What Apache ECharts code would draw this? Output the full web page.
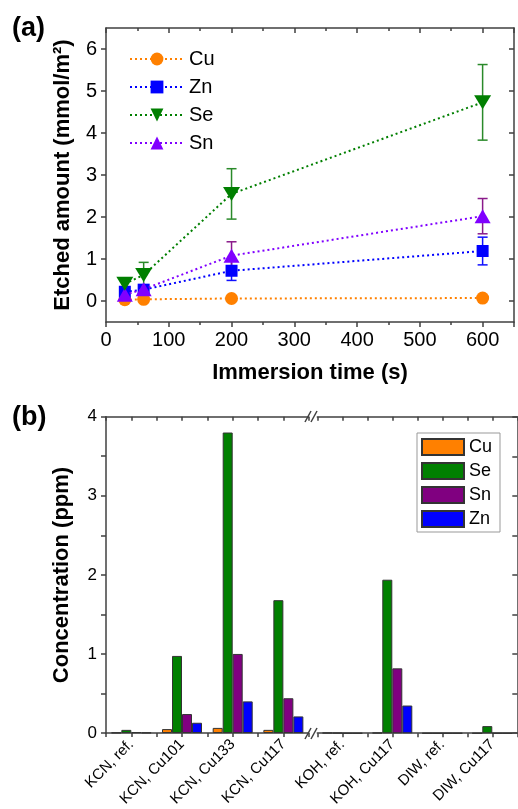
<!DOCTYPE html>
<html>
<head>
<meta charset="utf-8">
<script src="https://cdn.jsdelivr.net/npm/echarts@6/dist/echarts.min.js"></script>
<style>
body{margin:0;background:#fff;}
#chartA{position:absolute;left:0;top:0;width:518px;height:390px;}
#chartB{position:absolute;left:0;top:390px;width:518px;height:419px;}
#overB{position:absolute;left:0;top:390px;width:518px;height:419px;pointer-events:none;}
</style>
</head>
<body>
<div id="chartA"></div>
<div id="chartB"></div>
<div id="overB"></div>
<script>
// (a) etched amount vs immersion time
var times = [30, 60, 200, 600];
var cuVals = [0.03, 0.04, 0.06, 0.07];
var znVals = [0.22, 0.27, 0.72, 1.19];
var seVals = [0.41, 0.62, 2.55, 4.73];
var snVals = [0.15, 0.28, 1.08, 2.02];
var znErr = [0.08, 0.07, 0.23, 0.33];
var seErr = [0.14, 0.3, 0.6, 0.9];
var snErr = [0.08, 0.06, 0.33, 0.42];
var yTicksA = [0, 1, 2, 3, 4, 5, 6];

// (b) concentration per sample
var samples = ['KCN, ref.', 'KCN, Cu101', 'KCN, Cu133', 'KCN, Cu117', 'KOH, ref.', 'KOH, Cu117', 'DIW, ref.', 'DIW, Cu117'];
var samplePos = [1, 2, 3, 4, 5, 6, 7, 8];
var cuConc = [0.005, 0.05, 0.065, 0.04, 0.006, 0.006, 0, 0];
var seConc = [0.04, 0.975, 3.8, 1.68, 0.004, 1.94, 0, 0.09];
var snConc = [0.01, 0.24, 1.0, 0.44, 0, 0.82, 0, 0];
var znConc = [0.005, 0.13, 0.4, 0.21, 0, 0.35, 0, 0];
var yLabelsB = [0, 1, 2, 3, 4];

var FONT = 'Liberation Sans, Arial, sans-serif';
var AX = '#404040';

function pts(vals){
  return times.map(function(t, i){ return [t, vals[i]]; });
}
function errData(vals, err){
  return times.map(function(t, i){ return [t, vals[i] - err[i], vals[i] + err[i]]; });
}
function errSeries(vals, err, color){
  return {
    type: 'custom',
    z: 1,
    silent: true,
    encode: {x: 0, y: [1, 2]},
    data: errData(vals, err),
    renderItem: function(params, api){
      var x = api.value(0);
      var top = api.coord([x, api.value(2)]);
      var bot = api.coord([x, api.value(1)]);
      var w = 5;
      var st = {stroke: color, lineWidth: 1.5};
      return {type: 'group', children: [
        {type: 'line', shape: {x1: top[0], y1: top[1], x2: bot[0], y2: bot[1]}, style: st},
        {type: 'line', shape: {x1: top[0]-w, y1: top[1], x2: top[0]+w, y2: top[1]}, style: st},
        {type: 'line', shape: {x1: bot[0]-w, y1: bot[1], x2: bot[0]+w, y2: bot[1]}, style: st}
      ]};
    }
  };
}
function lineSeries(name, vals, color, symbol, size, rotate, z){
  return {
    name: name,
    type: 'line',
    data: pts(vals),
    symbol: symbol,
    symbolSize: size,
    symbolRotate: rotate,
    z: z,
    itemStyle: {color: color, opacity: 1},
    lineStyle: {color: color, width: 2, type: [2, 3]}
  };
}
var tickStyle = {color: AX, width: 1.5};

var chartA = echarts.init(document.getElementById('chartA'));
chartA.setOption({
  animation: false,
  textStyle: {fontFamily: FONT},
  graphic: [{type: 'text', left: 12, top: 15, style: {text: '(a)', font: 'bold 27px ' + FONT, fill: '#000'}}],
  grid: {left: 106, top: 28, width: 408, height: 294},
  legend: {
    left: 124, top: 44, orient: 'vertical',
    itemWidth: 54, itemHeight: 16, itemGap: 8,
    data: ['Cu', 'Zn', 'Se', 'Sn'],
    textStyle: {fontSize: 20, color: '#000', fontFamily: FONT}
  },
  xAxis: [{
    type: 'value', min: 0, max: 650, interval: 100,
    name: 'Immersion time (s)', nameLocation: 'middle', nameGap: 40,
    nameTextStyle: {fontSize: 22, fontWeight: 'bold', color: '#000', fontFamily: FONT},
    axisLine: {onZero: false, lineStyle: tickStyle},
    axisTick: {length: 5, lineStyle: tickStyle},
    minorTick: {show: true, splitNumber: 2, length: 3, lineStyle: tickStyle},
    axisLabel: {fontSize: 20, color: '#000', margin: 8, showMaxLabel: false, fontFamily: FONT},
    splitLine: {show: false}
  }, {
    type: 'value', min: 0, max: 650, interval: 100, position: 'top',
    axisLine: {show: true, onZero: false, lineStyle: tickStyle},
    axisTick: {show: true, inside: true, length: 5, lineStyle: tickStyle},
    minorTick: {show: true, splitNumber: 2, length: 3, lineStyle: tickStyle},
    axisLabel: {show: false},
    splitLine: {show: false}
  }],
  yAxis: [{
    type: 'value', min: -0.5, max: 6.5,
    name: 'Etched amount (mmol/m²)', nameLocation: 'middle', nameGap: 32,
    nameTextStyle: {fontSize: 22, fontWeight: 'bold', color: '#000', fontFamily: FONT},
    axisLine: {show: true, onZero: false, lineStyle: tickStyle},
    axisTick: {show: true, length: 5, customValues: yTicksA, lineStyle: tickStyle},
    axisLabel: {fontSize: 20, color: '#000', margin: 9, customValues: yTicksA, fontFamily: FONT},
    splitLine: {show: false}
  }, {
    type: 'value', min: -0.5, max: 6.5, position: 'right',
    axisLine: {show: true, onZero: false, lineStyle: tickStyle},
    axisTick: {show: true, inside: true, length: 5, customValues: yTicksA, lineStyle: tickStyle},
    axisLabel: {show: false},
    splitLine: {show: false}
  }],
  series: [
    errSeries(znVals, znErr, '#1010ff'),
    errSeries(seVals, seErr, '#2a8a2a'),
    errSeries(snVals, snErr, '#8a1a8a'),
    lineSeries('Cu', cuVals, '#ff8000', 'circle', 13, 0, 2),
    lineSeries('Zn', znVals, '#0000ff', 'rect', 12, 0, 3),
    lineSeries('Sn', snVals, '#8000ff', 'triangle', [16, 14], 0, 4),
    lineSeries('Se', seVals, '#007f00', 'triangle', [17, 14], 180, 5)
  ]
});

// (b) two grids with an axis break between them
function barData(vals, from, to){
  var out = [];
  for (var i = from; i < to; i++) out.push([samplePos[i], vals[i]]);
  return out;
}
var elems = [['Cu', cuConc, '#ff8000'], ['Se', seConc, '#008000'], ['Sn', snConc, '#800080'], ['Zn', znConc, '#0000ff']];
var barSeries = [];
[[0, 4, 0, 0], [4, 8, 2, 1]].forEach(function(g){
  elems.forEach(function(e){
    barSeries.push({
      name: e[0], type: 'bar',
      xAxisIndex: g[2], yAxisIndex: g[3],
      data: barData(e[1], g[0], g[1]),
      barWidth: 10, barGap: '0%',
      itemStyle: {color: e[2], borderColor: '#333', borderWidth: 1}
    });
  });
});
function catLabel(v){ return samples[samplePos.indexOf(v)] || ''; }
function xb(min, max, labels, gridIndex){
  return [{
    type: 'value', gridIndex: gridIndex, min: min, max: max, interval: 0.5,
    axisLine: {onZero: false, lineStyle: tickStyle},
    axisTick: {length: 4, lineStyle: tickStyle},
    axisLabel: {customValues: labels, formatter: catLabel, rotate: 45, fontSize: 15, color: '#000', margin: 9, fontFamily: FONT},
    splitLine: {show: false}
  }, {
    type: 'value', gridIndex: gridIndex, min: min, max: max, interval: 0.5, position: 'top',
    axisLine: {show: true, onZero: false, lineStyle: tickStyle},
    axisTick: {show: true, inside: true, length: 4, lineStyle: tickStyle},
    axisLabel: {show: false},
    splitLine: {show: false}
  }];
}
var chartB = echarts.init(document.getElementById('chartB'));
chartB.setOption({
  animation: false,
  textStyle: {fontFamily: FONT},
  grid: [
    {left: 106, top: 26.7, width: 202.7, height: 316.6},
    {left: 317.3, top: 26.7, width: 200, height: 316.6}
  ],
  legend: {
    left: 417, top: 43, orient: 'vertical',
    itemWidth: 42, itemHeight: 16, itemGap: 6,
    padding: [5, 8, 4, 4],
    borderColor: '#999', borderWidth: 1,
    icon: 'rect',
    data: ['Cu', 'Se', 'Sn', 'Zn'],
    textStyle: {fontSize: 18, color: '#000', fontFamily: FONT}
  },
  xAxis: xb(0.5, 4.5, [1, 2, 3, 4], 0).concat(xb(4.5, 8.5, [5, 6, 7, 8], 1)),
  yAxis: [{
    type: 'value', gridIndex: 0, min: 0, max: 4, interval: 0.5,
    axisLine: {show: true, onZero: false, lineStyle: tickStyle},
    axisTick: {show: true, length: 5, lineStyle: tickStyle},
    axisLabel: {fontSize: 17, color: '#000', margin: 9, customValues: yLabelsB, fontFamily: FONT},
    splitLine: {show: false}
  }, {
    type: 'value', gridIndex: 1, min: 0, max: 4, interval: 0.5, position: 'right',
    axisLine: {show: true, onZero: false, lineStyle: tickStyle},
    axisTick: {show: true, inside: true, length: 5, lineStyle: tickStyle},
    axisLabel: {show: false},
    splitLine: {show: false}
  }],
  series: barSeries
});

// panel letter, y title and the "//" break marks on a transparent layer above (b)
var brk = {stroke: AX, lineWidth: 1.5};
var overB = echarts.init(document.getElementById('overB'));
overB.setOption({
  animation: false,
  graphic: [
    {type: 'text', left: 12, top: 14, style: {text: '(b)', font: 'bold 27px ' + FONT, fill: '#000'}},
    {type: 'text', x: 62, y: 185, rotation: Math.PI / 2,
     style: {text: 'Concentration (ppm)', font: 'bold 22px ' + FONT, fill: '#000', align: 'center', verticalAlign: 'middle'}},
    {type: 'line', shape: {x1: 305, y1: 32, x2: 311, y2: 21}, style: brk},
    {type: 'line', shape: {x1: 311, y1: 32, x2: 317, y2: 21}, style: brk},
    {type: 'line', shape: {x1: 305, y1: 349, x2: 311, y2: 338}, style: brk},
    {type: 'line', shape: {x1: 311, y1: 349, x2: 317, y2: 338}, style: brk}
  ]
});
</script>
</body>
</html>
